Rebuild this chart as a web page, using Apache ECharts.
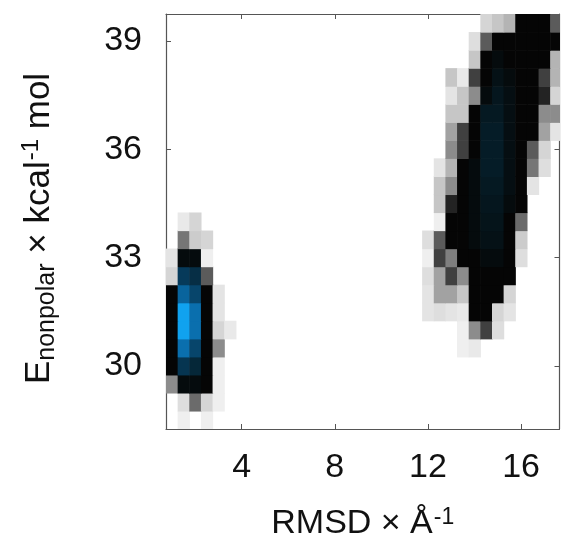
<!DOCTYPE html>
<html>
<head>
<meta charset="utf-8">
<script src="https://cdn.jsdelivr.net/npm/echarts@6/dist/echarts.min.js"></script>
<style>
  html, body { margin: 0; padding: 0; background: #ffffff; }
  #chart { width: 561px; height: 546px; }
</style>
</head>
<body>
<div id="chart"></div>
<script>
// Near-native basin: RMSD bin centres (Å), energy bin centres, population density (bottom row first)
const nearRmsd = [1.0, 1.5, 2.0, 2.5, 3.0, 3.5];
const nearEnergy = [28.5, 29.0, 29.5, 30.0, 30.5, 31.0, 31.5, 32.0, 32.5, 33.0, 33.5, 34.0];
const nearDensity = [
  [0.00, 0.06, 0.00, 0.06, 0.00, 0.00],
  [0.00, 0.12, 0.42, 0.15, 0.06, 0.00],
  [0.35, 0.62, 0.62, 0.60, 0.06, 0.00],
  [0.60, 0.78, 0.72, 0.60, 0.06, 0.00],
  [0.60, 0.90, 0.82, 0.60, 0.35, 0.00],
  [0.60, 1.00, 0.90, 0.60, 0.15, 0.08],
  [0.60, 1.00, 0.90, 0.60, 0.10, 0.00],
  [0.60, 0.88, 0.82, 0.60, 0.10, 0.00],
  [0.15, 0.80, 0.75, 0.45, 0.00, 0.00],
  [0.10, 0.62, 0.62, 0.06, 0.00, 0.00],
  [0.00, 0.40, 0.18, 0.15, 0.00, 0.00],
  [0.00, 0.08, 0.15, 0.00, 0.00, 0.00]
];

// Misfolded basin
const farRmsd = [12.0, 12.5, 13.0, 13.5, 14.0, 14.5, 15.0, 15.5, 16.0, 16.5, 17.0, 17.5];
const farEnergy = [30.5, 31.0, 31.5, 32.0, 32.5, 33.0, 33.5, 34.0, 34.5, 35.0,
                   35.5, 36.0, 36.5, 37.0, 37.5, 38.0, 38.5, 39.0, 39.5];
const farDensity = [
  [0.00, 0.00, 0.00, 0.06, 0.08, 0.00, 0.00, 0.00, 0.00, 0.00, 0.00, 0.00],
  [0.00, 0.00, 0.00, 0.06, 0.35, 0.50, 0.12, 0.00, 0.00, 0.00, 0.00, 0.00],
  [0.10, 0.12, 0.10, 0.08, 0.60, 0.60, 0.15, 0.10, 0.00, 0.00, 0.00, 0.00],
  [0.10, 0.30, 0.30, 0.20, 0.60, 0.60, 0.60, 0.15, 0.00, 0.00, 0.00, 0.00],
  [0.12, 0.30, 0.50, 0.35, 0.60, 0.60, 0.60, 0.60, 0.00, 0.00, 0.00, 0.00],
  [0.06, 0.50, 0.38, 0.60, 0.60, 0.62, 0.62, 0.60, 0.12, 0.00, 0.00, 0.00],
  [0.12, 0.45, 0.60, 0.60, 0.62, 0.64, 0.64, 0.60, 0.18, 0.00, 0.00, 0.00],
  [0.00, 0.06, 0.60, 0.60, 0.62, 0.65, 0.65, 0.60, 0.42, 0.00, 0.00, 0.00],
  [0.00, 0.20, 0.55, 0.60, 0.62, 0.66, 0.66, 0.62, 0.60, 0.00, 0.00, 0.00],
  [0.00, 0.20, 0.35, 0.60, 0.62, 0.67, 0.67, 0.63, 0.60, 0.10, 0.00, 0.00],
  [0.00, 0.10, 0.25, 0.60, 0.62, 0.68, 0.68, 0.63, 0.60, 0.40, 0.12, 0.00],
  [0.00, 0.00, 0.35, 0.50, 0.60, 0.68, 0.68, 0.63, 0.60, 0.45, 0.15, 0.00],
  [0.00, 0.00, 0.30, 0.50, 0.60, 0.68, 0.68, 0.63, 0.60, 0.60, 0.30, 0.10],
  [0.00, 0.00, 0.20, 0.20, 0.60, 0.67, 0.67, 0.63, 0.60, 0.60, 0.35, 0.35],
  [0.00, 0.00, 0.10, 0.20, 0.35, 0.62, 0.66, 0.63, 0.60, 0.60, 0.55, 0.15],
  [0.00, 0.00, 0.20, 0.08, 0.50, 0.60, 0.64, 0.62, 0.60, 0.60, 0.50, 0.25],
  [0.00, 0.00, 0.00, 0.00, 0.20, 0.60, 0.62, 0.60, 0.60, 0.60, 0.60, 0.25],
  [0.00, 0.00, 0.00, 0.00, 0.12, 0.45, 0.60, 0.60, 0.60, 0.60, 0.60, 0.60],
  [0.00, 0.00, 0.00, 0.00, 0.00, 0.15, 0.20, 0.25, 0.60, 0.60, 0.60, 0.45]
];

const rmsdTicks = [4, 8, 12, 16];
const energyTicks = [30, 33, 36, 39];

// Histogram bin half-widths in data units
const RMSD_HALF = 0.25;
const ENERGY_HALF = 0.25;

function toCells(xs, ys, grid) {
  const out = [];
  grid.forEach(function (row, i) {
    row.forEach(function (v, j) {
      if (v > 0) out.push([xs[j], ys[i], v]);
    });
  });
  return out;
}

function renderCell(params, api) {
  const x = api.value(0);
  const y = api.value(1);
  const a = api.coord([x - RMSD_HALF, y + ENERGY_HALF]);
  const b = api.coord([x + RMSD_HALF, y - ENERGY_HALF]);
  return {
    type: 'rect',
    shape: { x: a[0], y: a[1], width: b[0] - a[0] + 0.6, height: b[1] - a[1] + 0.6 },
    style: { fill: api.visual('color') }
  };
}

const FONT = "'Liberation Sans', Arial, sans-serif";
const AXIS_COLOR = '#555555';

const boxAxis = {
  axisLine: { show: true, onZero: false, lineStyle: { color: AXIS_COLOR, width: 1.2 } },
  splitLine: { show: false },
  axisLabel: { show: false }
};

const chart = echarts.init(document.getElementById('chart'), null, { renderer: 'canvas' });

chart.setOption({
  animation: false,
  backgroundColor: '#ffffff',
  grid: { left: 166, top: 14, width: 393.5, height: 418 },
  visualMap: {
    show: false,
    type: 'continuous',
    min: 0,
    max: 1,
    dimension: 2,
    seriesIndex: [0, 1],
    inRange: {
      color: ['#ffffff', '#e4e4e4', '#c6c6c6', '#a2a2a2', '#767676', '#404040',
              '#050505', '#05222f', '#063a5a', '#0a6fae', '#10a2ef']
    }
  },
  xAxis: [
    {
      type: 'value',
      position: 'bottom',
      min: 0.75,
      max: 17.65,
      axisLine: { show: true, onZero: false, lineStyle: { color: AXIS_COLOR, width: 1.2 } },
      axisTick: { show: true, inside: true, length: 5, customValues: rmsdTicks, lineStyle: { color: AXIS_COLOR } },
      axisLabel: { customValues: rmsdTicks, fontSize: 34, color: '#111111', fontFamily: FONT, margin: 22 },
      splitLine: { show: false },
      name: '{t|RMSD × Å}{sup|-1}',
      nameLocation: 'middle',
      nameGap: 77,
      nameTextStyle: {
        rich: {
          t: { fontSize: 34, fontFamily: FONT, color: '#111111' },
          sup: { fontSize: 23, fontFamily: FONT, color: '#111111', verticalAlign: 'top', padding: [0, 0, 13, 1] }
        }
      }
    },
    Object.assign({
      type: 'value',
      position: 'top',
      min: 0.75,
      max: 17.65,
      axisTick: { show: true, inside: true, length: 5, customValues: rmsdTicks, lineStyle: { color: AXIS_COLOR } }
    }, boxAxis)
  ],
  yAxis: [
    {
      type: 'value',
      position: 'left',
      min: 28.25,
      max: 39.75,
      axisLine: { show: true, onZero: false, lineStyle: { color: AXIS_COLOR, width: 1.2 } },
      axisTick: { show: true, inside: true, length: 5, customValues: energyTicks, lineStyle: { color: AXIS_COLOR } },
      axisLabel: { customValues: energyTicks, fontSize: 34, color: '#111111', fontFamily: FONT, margin: 24 },
      splitLine: { show: false },
      name: '{t|E}{sub|nonpolar}{t| × kcal}{sup|-1}{t| mol}',
      nameLocation: 'middle',
      nameRotate: 90,
      nameGap: 106,
      nameTextStyle: {
        padding: [0, 14, 0, 0],
        rich: {
          t: { fontSize: 35, fontFamily: FONT, color: '#111111' },
          sub: { fontSize: 25, fontFamily: FONT, color: '#111111', verticalAlign: 'bottom', padding: [16, 0, 0, 0] },
          sup: { fontSize: 24, fontFamily: FONT, color: '#111111', verticalAlign: 'top', padding: [0, 0, 13, 1] }
        }
      }
    },
    Object.assign({
      type: 'value',
      position: 'right',
      min: 28.25,
      max: 39.75,
      axisTick: { show: true, inside: true, length: 5, customValues: energyTicks, lineStyle: { color: AXIS_COLOR } }
    }, boxAxis)
  ],
  series: [
    {
      name: 'near-native',
      type: 'custom',
      coordinateSystem: 'cartesian2d',
      clip: true,
      renderItem: renderCell,
      encode: { x: 0, y: 1 },
      data: toCells(nearRmsd, nearEnergy, nearDensity)
    },
    {
      name: 'misfolded',
      type: 'custom',
      coordinateSystem: 'cartesian2d',
      clip: true,
      renderItem: renderCell,
      encode: { x: 0, y: 1 },
      data: toCells(farRmsd, farEnergy, farDensity)
    }
  ]
});
</script>
</body>
</html>
